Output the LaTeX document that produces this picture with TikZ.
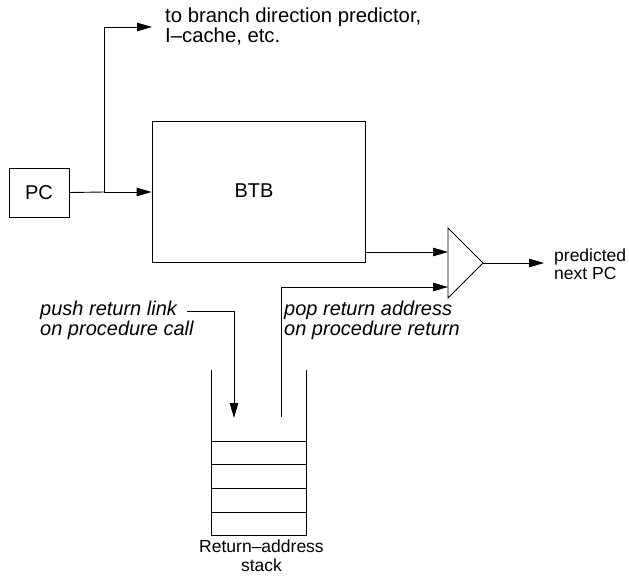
\documentclass[tikz,border=0pt]{standalone}
\usepackage{fontspec}
\setmainfont{Liberation Sans}
\usetikzlibrary{arrows.meta}
\begin{document}
\begin{tikzpicture}[x=1pt,y=-1pt,
  wire/.style={line width=0.9pt},
  arr/.style={wire,-{Triangle[length=15pt,width=8.5pt]}},
  blk/.style={draw,line width=0.9pt,inner sep=0pt},
  lbl/.style={font=\fontsize{17.5}{18.5}\selectfont,align=left,inner sep=0pt},
  lblbig/.style={font=\fontsize{20.3}{17.5}\selectfont,align=left,inner sep=0pt},
  ital/.style={font=\fontsize{20}{20}\selectfont\itshape,align=left,inner sep=0pt},
  big/.style={font=\fontsize{20}{24}\selectfont}]
\useasboundingbox (0,0) rectangle (629,576);
% blocks
\node[blk,minimum width=60pt,minimum height=49pt,big] (pc) at (39,192.5) {PC};
\node[blk,minimum width=213pt,minimum height=141pt] (btb) at (258.5,191.5) {};
\node[big] (btbl) at (254,191) {BTB};
% mux triangle
\coordinate (mt) at (448,228);
\coordinate (mb) at (448,298);
\coordinate (mo) at (483,263);
\draw[wire,line join=miter] (mt) -- (mo) -- (mb) -- cycle;
\coordinate (in1) at (448,252);
\coordinate (in2) at (448,287);
% branch to predictor
\coordinate (br) at (104,192);
\coordinate (brup) at (104,27);
\coordinate (brend) at (152,27);
\node[lblbig,anchor=west] (tobr) at (165,26) {to branch direction predictor,\\I\textendash cache, etc.};
\draw[wire] (pc.east) -- (br);
\draw[arr] (br) -- (btb.west |- br);
\draw[arr] (br) -- (brup) -- (brend);
% BTB to mux
\draw[arr] (btb.east |- in1) -- (in1);
% output
\coordinate (outend) at (544,263);
\draw[arr] (mo) -- (outend);
\node[lbl,anchor=west] (pred) at (554,264) {predicted\\next PC};
% stack
\coordinate (stl) at (211,370);
\coordinate (str) at (306,370);
\draw[wire] (stl) -- (211,535) -- (306,535) -- (str);
\foreach \yy in {441,464.5,488,512}
  \draw[wire] (211,\yy) -- (306,\yy);
\node[lbl,align=center,anchor=north] (stk) at (261.5,540) {Return\textendash address\\stack};
% push
\node[ital,anchor=west] (push) at (40,320) {push return link\\on procedure call};
\coordinate (ps1) at (187,311);
\coordinate (ps2) at (234,311);
\coordinate (ps3) at (234,418);
\draw[arr] (ps1) -- (ps2) -- (ps3);
% pop
\node[ital,anchor=west] (pop) at (284,320) {pop return address\\on procedure return};
\coordinate (pp1) at (281,417);
\coordinate (pp2) at (281,287);
\draw[arr] (pp1) -- (pp2) -- (in2);
\end{tikzpicture}
\end{document}
